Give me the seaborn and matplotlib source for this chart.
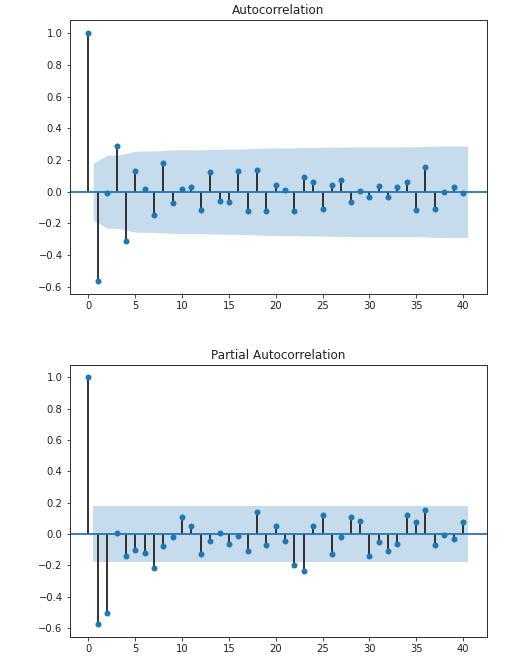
import numpy as np
import pandas as pd
import matplotlib
matplotlib.use("Agg")
import matplotlib.pyplot as plt
import seaborn as sns

# values
lags = list(range(41))
acf_vals = [1.0, -0.565, -0.01, 0.288, -0.31, 0.13, 0.02, -0.145, 0.179, -0.074,
            0.02, 0.03, -0.114, 0.122, -0.057, -0.065, 0.13, -0.122, 0.139, -0.122,
            0.044, 0.013, -0.122, 0.093, 0.059, -0.107, 0.044, 0.076, -0.065, 0.004,
            -0.032, 0.038, -0.032, 0.029, 0.059, -0.114, 0.156, -0.107, -0.002, 0.029,
            -0.011]
# half-width of the ACF confidence band, lags 1..40
acf_band = [0.180, 0.231, 0.231, 0.243, 0.255, 0.257, 0.257, 0.260, 0.264, 0.265,
            0.265, 0.265, 0.267, 0.268, 0.269, 0.269, 0.271, 0.273, 0.276, 0.277,
            0.277, 0.277, 0.279, 0.280, 0.280, 0.282, 0.282, 0.283, 0.283, 0.283,
            0.283, 0.283, 0.283, 0.284, 0.284, 0.285, 0.288, 0.289, 0.289, 0.289]
pacf_vals = [1.0, -0.575, -0.505, 0.008, -0.14, -0.102, -0.119, -0.215, -0.077, -0.021,
             0.106, 0.051, -0.126, -0.045, 0.004, -0.062, -0.013, -0.109, 0.138, -0.07,
             0.051, -0.045, -0.196, -0.236, 0.051, 0.121, -0.126, -0.021, 0.106, 0.083,
             -0.14, -0.053, -0.109, -0.062, 0.121, 0.074, 0.153, -0.068, -0.004, -0.03,
             0.074]
pacf_band = [0.18] * 40

sns.set_style("ticks")
plt.rcParams['font.family'] = ['DejaVu Sans']
plt.rcParams.update({
    'axes.edgecolor': '#333333',
    'axes.linewidth': 1.0,
    'xtick.color': '#222222',
    'ytick.color': '#222222',
    'text.color': '#222222',
    'xtick.major.size': 3.5,
    'ytick.major.size': 3.5,
    'font.size': 10,
})

fig = plt.figure(figsize=(520 / 72, 668 / 72), dpi=72)
ax1 = fig.add_axes([0.1337, 0.5606, 0.802, 0.4094])
ax2 = fig.add_axes([0.1337, 0.0457, 0.802, 0.408])


def corr_plot(ax, vals, band, title):
    df = pd.DataFrame({'lag': lags, 'value': vals})
    ax.vlines(df['lag'], 0, df['value'], colors='#222222', linewidth=1.8, zorder=2)
    ax.axhline(0, color='#1f77b4', linewidth=1.8, zorder=2)
    sns.scatterplot(data=df, x='lag', y='value', ax=ax, color='#1f77b4', s=36,
                    linewidth=0, zorder=3)
    # band x positions: lags 1..40 with ends pushed out by half a lag
    bx = np.array(lags[1:], dtype=float)
    bx[0] -= 0.5
    bx[-1] += 0.5
    bw = np.array(band)
    ax.fill_between(bx, -bw, bw, color='#1f77b4', alpha=0.25, linewidth=0, zorder=1)
    ax.set_title(title, fontsize=12)
    ax.set_xlabel('')
    ax.set_ylabel('')
    ax.set_xlim(-2.025, 42.525)
    ax.set_xticks([0, 5, 10, 15, 20, 25, 30, 35, 40])
    ax.set_yticks([-0.6, -0.4, -0.2, 0.0, 0.2, 0.4, 0.6, 0.8, 1.0])
    ax.set_yticklabels(['−0.6', '−0.4', '−0.2', '0.0', '0.2', '0.4', '0.6', '0.8', '1.0'])
    ax.tick_params(labelsize=10)


corr_plot(ax1, acf_vals, acf_band, 'Autocorrelation')
ax1.set_ylim(-0.643, 1.084)
corr_plot(ax2, pacf_vals, pacf_band, 'Partial Autocorrelation')
ax2.set_ylim(-0.66, 1.078)

plt.savefig('out.png', dpi=72)
